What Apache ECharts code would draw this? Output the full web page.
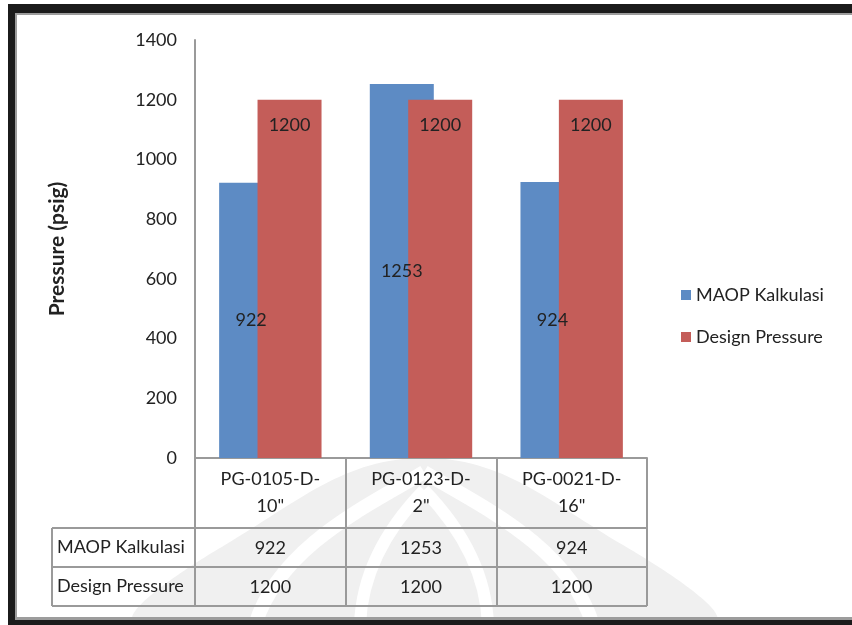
<!DOCTYPE html>
<html>
<head>
<meta charset="utf-8">
<script src="https://cdn.jsdelivr.net/npm/echarts@6/dist/echarts.min.js"></script>
<style>
  html, body { margin: 0; padding: 0; background: #ffffff; }
  #chart { width: 852px; height: 625px; }
</style>
</head>
<body>
<div id="chart"></div>
<script>
// Pipeline segments and their pressures (psig)
const categories = ['PG-0105-D-10"', 'PG-0123-D-2"', 'PG-0021-D-16"'];
const maopValues = [922, 1253, 924];
const designValues = [1200, 1200, 1200];
const seriesNames = ['MAOP Kalkulasi', 'Design Pressure'];
const yMin = 0;
const yMax = 1400;
const yStep = 200;

const FONT = 'Lato, "Open Sans", sans-serif';
const TEXT = '#222222';
const LINE = '#9a9a9a';
const BLUE = '#5d8bc4';
const RED = '#c45d59';

// Plot area geometry
const gridLeft = 195, gridTop = 40, gridRight = 647, gridBottom = 458;
const rowTops = [528, 567, 606];   // data-table row separators
const labelColLeft = 52;

// Wrap a category after its last hyphen, like a narrow table cell
function wrapCategory(s) {
  const k = s.lastIndexOf('-');
  return k >= 0 ? s.slice(0, k + 1) + '\n' + s.slice(k + 1) : s;
}

const chart = echarts.init(document.getElementById('chart'), null, { renderer: 'canvas' });

const graphics = [];

// Faint emblem in the page background
function whiteArc(x1, y1, cx1, cy1, cx2, cy2, x2, y2, w) {
  return { type: 'bezierCurve', z: -4, silent: true,
    shape: { x1: x1, y1: y1, cpx1: cx1, cpy1: cy1, cpx2: cx2, cpy2: cy2, x2: x2, y2: y2 },
    style: { fill: null, stroke: '#ffffff', lineWidth: w } };
}
graphics.push(
  { type: 'polygon', z: -5, silent: true,
    shape: { points: [[140, 625], [225, 545], [424, 458], [623, 545], [710, 625]], smooth: 0.4 },
    style: { fill: '#f0f0f0' } },
  whiteArc(255, 625, 280, 545, 370, 505, 424, 472, 14),
  whiteArc(424, 472, 478, 505, 568, 545, 593, 625, 14),
  whiteArc(360, 625, 362, 565, 395, 520, 424, 490, 12),
  whiteArc(424, 490, 453, 520, 486, 565, 488, 625, 12)
);

// Page frame
graphics.push(
  { type: 'rect', z: 20, shape: { x: 8, y: 4, width: 844, height: 9 }, style: { fill: '#1b1b1b' } },
  { type: 'rect', z: 20, shape: { x: 8, y: 4, width: 7, height: 621 }, style: { fill: '#1b1b1b' } },
  { type: 'rect', z: 20, shape: { x: 8, y: 620, width: 844, height: 5 }, style: { fill: '#1b1b1b' } },
  { type: 'rect', z: 20, shape: { x: 15, y: 13, width: 837, height: 2 }, style: { fill: '#9c9c9c' } },
  { type: 'rect', z: 20, shape: { x: 15, y: 13, width: 2, height: 607 }, style: { fill: '#9c9c9c' } },
  { type: 'rect', z: 20, shape: { x: 15, y: 617, width: 837, height: 3 }, style: { fill: '#9c9c9c' } }
);

// Data-table grid lines and row headers
rowTops.forEach(function (y) {
  graphics.push({ type: 'line', z: 5,
    shape: { x1: labelColLeft, y1: y, x2: gridRight, y2: y },
    style: { stroke: LINE, lineWidth: 2 } });
});
graphics.push({ type: 'line', z: 5,
  shape: { x1: labelColLeft, y1: rowTops[0], x2: labelColLeft, y2: rowTops[2] },
  style: { stroke: LINE, lineWidth: 2 } });
seriesNames.forEach(function (name, i) {
  graphics.push({ type: 'text', z: 10,
    x: labelColLeft + 5, y: (rowTops[i] + rowTops[i + 1]) / 2,
    style: { text: name, fill: TEXT, font: '18px ' + FONT, verticalAlign: 'middle', align: 'left' } });
});

const rowLabel = { color: TEXT, fontFamily: FONT, fontSize: 18, lineHeight: 20, margin: 10 };

chart.setOption({
  backgroundColor: '#ffffff',
  animation: false,
  grid: { left: gridLeft, top: gridTop, right: 852 - gridRight, bottom: 625 - gridBottom, containLabel: false },
  legend: {
    orient: 'vertical', left: 681, top: 285, padding: 0,
    itemWidth: 10, itemHeight: 10, itemGap: 22, icon: 'rect',
    textStyle: { color: TEXT, fontFamily: FONT, fontSize: 18, lineHeight: 20 },
    data: seriesNames
  },
  xAxis: [
    {
      type: 'category', data: categories, position: 'bottom',
      axisLine: { lineStyle: { color: LINE, width: 2 } },
      axisTick: { show: true, length: 148, lineStyle: { color: LINE, width: 2 } },
      axisLabel: {
        color: TEXT, fontFamily: FONT, fontSize: 18, lineHeight: 27, margin: 8,
        formatter: wrapCategory
      }
    },
    {
      type: 'category', data: categories, position: 'bottom', offset: rowTops[0] - gridBottom,
      axisLine: { show: false }, axisTick: { show: false },
      axisLabel: Object.assign({}, rowLabel, { formatter: function (v, i) { return String(maopValues[i]); } })
    },
    {
      type: 'category', data: categories, position: 'bottom', offset: rowTops[1] - gridBottom,
      axisLine: { show: false }, axisTick: { show: false },
      axisLabel: Object.assign({}, rowLabel, { formatter: function (v, i) { return String(designValues[i]); } })
    }
  ],
  yAxis: {
    type: 'value', min: yMin, max: yMax, interval: yStep,
    name: 'Pressure (psig)', nameLocation: 'middle', nameGap: 127, nameRotate: 90,
    nameTextStyle: { color: TEXT, fontFamily: FONT, fontSize: 21, fontWeight: 'bold' },
    axisLine: { show: true, lineStyle: { color: LINE, width: 2 } },
    axisTick: { show: false },
    splitLine: { show: false },
    axisLabel: { color: TEXT, fontFamily: FONT, fontSize: 18, margin: 18,
                 formatter: function (v) { return String(v); } }
  },
  series: [
    {
      name: seriesNames[0], type: 'bar', data: maopValues,
      barWidth: 64, barGap: '-40%',
      itemStyle: { color: BLUE },
      label: { show: true, position: 'inside', color: TEXT, fontFamily: FONT, fontSize: 18,
               textBorderWidth: 0 }
    },
    {
      name: seriesNames[1], type: 'bar', data: designValues,
      barWidth: 64, barGap: '-40%',
      itemStyle: { color: RED },
      label: { show: true, position: 'insideTop', distance: 16, color: TEXT, fontFamily: FONT, fontSize: 18,
               textBorderWidth: 0 }
    }
  ],
  graphic: graphics
});
</script>
</body>
</html>
